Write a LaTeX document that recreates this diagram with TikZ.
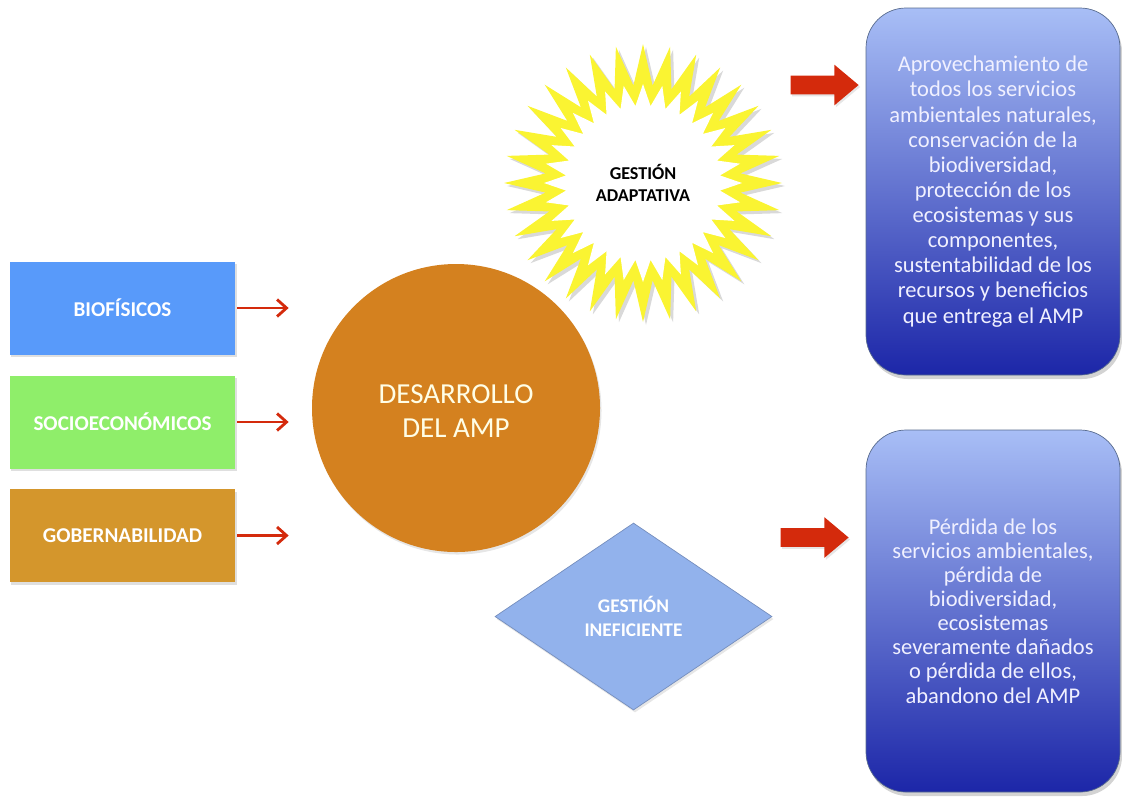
\documentclass[tikz,border=0pt]{standalone}
\usepackage{fontspec}
\setmainfont{Carlito}
\usetikzlibrary{shapes.geometric,shapes.arrows,shadows,arrows.meta,positioning}

\definecolor{azulbio}{RGB}{88,154,250}
\definecolor{verdesoc}{RGB}{143,238,106}
\definecolor{orogob}{RGB}{212,150,44}
\definecolor{naranjaamp}{RGB}{212,129,31}
\definecolor{amarillo}{RGB}{250,244,50}
\definecolor{azuldiam}{RGB}{146,178,236}
\definecolor{rojofl}{RGB}{212,42,12}
\definecolor{azulclaro}{RGB}{168,190,246}
\definecolor{azuloscuro}{RGB}{28,38,168}

\tikzset{
  caja/.style={rectangle, inner sep=0pt, minimum width=45mm, minimum height=18.6mm,
    text=white, font=\fontsize{12}{14}\selectfont\bfseries,
    drop shadow={opacity=.25,shadow xshift=.3mm,shadow yshift=-.5mm}},
  flecha/.style={->, >={Straight Barb[length=1.9mm,width=3.4mm]}, draw=rojofl,
    line width=1.6pt, shorten <=.4mm, shorten >=4.6mm},
  resultado/.style={rectangle, rounded corners=8mm, draw=azuldiam!60!black, thin,
    top color=azulclaro, bottom color=azuloscuro, minimum width=50.8mm,
    text=white!94!blue, align=center, font=\fontsize{12.8}{14.3}\selectfont,
    drop shadow={opacity=.35,shadow xshift=.4mm,shadow yshift=-.8mm}},
  flechagrande/.style={single arrow, fill=rojofl, inner xsep=0pt, inner ysep=1.8mm,
    minimum height=13.6mm, minimum width=8mm, single arrow head extend=2.2mm,
    single arrow tip angle=80,
    drop shadow={opacity=.2,shadow xshift=.3mm,shadow yshift=-.4mm}},
  rayos/.style={star, star points=32, inner sep=0pt}
}

\begin{document}
\begin{tikzpicture}[x=0.2mm, y=-0.2mm]
\useasboundingbox (0,0) rectangle (1122,797);

%factores
\node[caja, fill=azulbio] (bio) at (122.5,308) {BIOFÍSICOS};
\node[caja, fill=verdesoc] (soc) at (122.5,422) {SOCIOECONÓMICOS};
\node[caja, fill=orogob] (gob) at (122.5,535.5) {GOBERNABILIDAD};

%desarrollo
\node[circle, fill=naranjaamp, minimum size=57.6mm, inner sep=0pt, text=white!90!yellow,
  align=center, font=\fontsize{16.5}{19}\selectfont,
  drop shadow={opacity=.2,shadow xshift=.3mm,shadow yshift=-.5mm}]
  (amp) at (456,408) {\rule{0pt}{5mm}DESARROLLO\\DEL AMP};

\draw[flecha] (bio.east) -- (bio.east -| amp.west);
\draw[flecha] (soc.east) -- (soc.east -| amp.west);
\draw[flecha] (gob.east) -- (gob.east -| amp.west);

%gestion
\node[rayos, star point ratio=1.42, minimum size=55.6mm, fill=amarillo,
  drop shadow={opacity=.3,shadow xshift=.6mm,shadow yshift=-.6mm}]
  (adapt) at (643,183) {};
\node[rayos, star point ratio=1.28, minimum size=39.6mm, fill=white] (adaptin) at (adapt.center) {};
\node[align=center, font=\fontsize{10.3}{12.5}\selectfont\bfseries] (adapttxt) at (adapt.center)
  {GESTIÓN\\ADAPTATIVA};

\node[diamond, fill=azuldiam, draw=azuldiam!80!black, thin, minimum width=55.4mm,
  minimum height=37.4mm, inner sep=0pt, text=white, align=center,
  font=\fontsize{11}{13.5}\selectfont\bfseries,
  drop shadow={opacity=.2,shadow xshift=.3mm,shadow yshift=-.5mm}]
  (inef) at (633.5,616.5) {GESTIÓN\\INEFICIENTE};

%resultados
\node[flechagrande] (fsup) at (819,85) {};
\node[flechagrande] (finf) at (809,537.5) {};

\node[resultado, minimum height=73.4mm] (rsup) at (993,191.5)
  {Aprovechamiento de\\todos los servicios\\ambientales naturales,\\conservación de la\\biodiversidad,\\protección de los\\ecosistemas y sus\\componentes,\\sustentabilidad de los\\recursos y beneficios\\que entrega el AMP};
\node[resultado, minimum height=72.4mm, font=\fontsize{12.8}{13.7}\selectfont]
  (rinf) at (993,611)
  {Pérdida de los\\servicios ambientales,\\pérdida de\\biodiversidad,\\ecosistemas\\severamente dañados\\o pérdida de ellos,\\abandono del AMP};

\end{tikzpicture}
\end{document}
